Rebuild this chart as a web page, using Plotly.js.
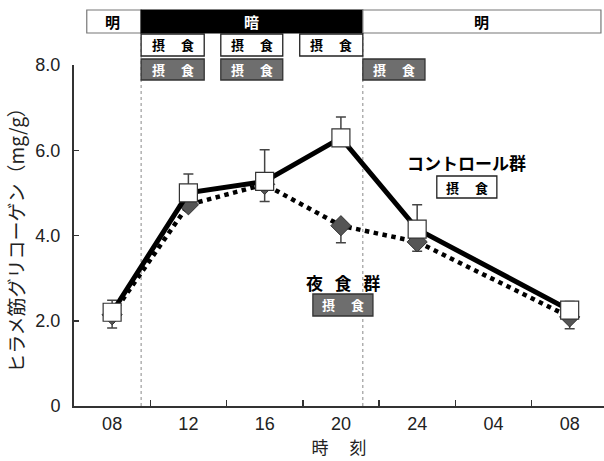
<!DOCTYPE html>
<html>
<head>
<meta charset="utf-8">
<script src="https://cdn.plot.ly/plotly-3.0.1.min.js"></script>
<style>html,body{margin:0;padding:0;background:#fff;}#chart{width:604px;height:461px;}</style>
</head>
<body>
<div id="chart"></div>
<script>
// ---- data (hours after 08:00) ----
const labelHours = [0, 4, 8, 12, 16, 20, 24];
const timeLabels = ['08', '12', '16', '20', '24', '04', '08'];
const boundaryHours = [2, 6, 10, 14, 18, 22];
const sampleHours = [0, 4, 8, 12, 16, 24];
const controlMean = [2.2, 5.0, 5.27, 6.29, 4.15, 2.25];
const controlSE   = [0.28, 0.44, 0.74, 0.49, 0.57, 0.2];
const nightMean   = [2.14, 4.72, 5.2, 4.23, 3.85, 2.09];
const nightSE     = [0.31, 0.1, 0.4, 0.4, 0.22, 0.28];
const noError     = [0, 0, 0, 0, 0, 0];
const yTickVals = [0, 2, 4, 6, 8];
const yTickText = ['0', '2.0', '4.0', '6.0', '8.0'];

const CJK = '"Noto Sans CJK JP", "Noto Sans", sans-serif';
const LAT = '"Liberation Sans", Arial, sans-serif';

const night = {
  x: sampleHours, y: nightMean, type: 'scatter', mode: 'lines+markers',
  line: {color: '#000', width: 4.5, dash: 'dot'},
  marker: {symbol: 'diamond', size: 15.5, color: '#555', line: {color: '#333', width: 1}},
  error_y: {type: 'data', symmetric: false, array: noError, arrayminus: nightSE,
            color: '#444', thickness: 1.5, width: 5},
  hoverinfo: 'none', showlegend: false
};
const control = {
  x: sampleHours, y: controlMean, type: 'scatter', mode: 'lines+markers',
  line: {color: '#000', width: 5},
  marker: {symbol: 'square', size: 18, color: '#fff', line: {color: '#333', width: 1.2}},
  error_y: {type: 'data', symmetric: false, array: controlSE, arrayminus: noError,
            color: '#444', thickness: 1.5, width: 5},
  hoverinfo: 'none', showlegend: false
};

// paper y helpers for decorations
const rows = {
  barY0: 1.0938, barY1: 1.1613, barT: 1.1276,
  wY0: 1.0264, wY1: 1.0909, wT: 1.0587,
  gY0: 0.9560, gY1: 1.0176, gT: 0.9868
};
const shapes = [];
const annotations = [];
function box(x0, x1, y0, y1, fill, lineColor, lw) {
  shapes.push({type: 'rect', xref: 'x', yref: 'paper', x0: x0, x1: x1, y0: y0, y1: y1,
    fillcolor: fill, line: {color: lineColor, width: lw}, layer: 'above'});
}
function txt(x, y, text, size, color) {
  annotations.push({xref: 'x', yref: 'paper', x: x, y: y, text: text, showarrow: false,
    font: {family: CJK, size: size, color: color, weight: 'bold'}, xanchor: 'center', yanchor: 'middle'});
}
// light/dark bar
box(-1.33, 1.52, rows.barY0, rows.barY1, '#fff', '#777', 1.2);
box(1.52, 13.15, rows.barY0, rows.barY1, '#000', '#000', 1.2);
box(13.15, 25.64, rows.barY0, rows.barY1, '#fff', '#777', 1.2);
txt(0, rows.barT, '明', 15, '#000');
txt(7.33, rows.barT, '暗', 15, '#fff');
txt(19.4, rows.barT, '明', 15, '#000');
// dotted lines
[1.52, 13.15].forEach(function (h) {
  shapes.push({type: 'line', xref: 'x', yref: 'paper', x0: h, x1: h, y0: 0, y1: rows.barY0,
    line: {color: '#888', width: 1, dash: 'dot'}, layer: 'below'});
});
const feed = '摂\u3000\u00a0食';
// control feeding (white)
[[1.52, 4.83], [5.70, 8.95], [9.84, 13.15]].forEach(function (p) {
  box(p[0], p[1], rows.wY0, rows.wY1, '#fff', '#222', 1.3);
  txt((p[0] + p[1]) / 2, rows.wT, feed, 13, '#000');
});
// night feeding (grey)
[[1.52, 4.83], [5.70, 8.95], [13.15, 16.41]].forEach(function (p) {
  box(p[0], p[1], rows.gY0, rows.gY1, '#6e6e6e', '#333', 1.3);
  txt((p[0] + p[1]) / 2, rows.gT, feed, 13, '#fff');
});
// legend-like labels
txt(18.6, 0.7155, 'コントロール群', 17, '#000');
box(17.03, 20.18, 0.6100, 0.6745, '#fff', '#222', 1.3);
txt(18.6, 0.6422, feed, 13, '#000');
txt(12.1, 0.3636, '夜\u00a0\u00a0\u00a0食\u00a0\u00a0\u00a0群', 17, '#000');
box(10.53, 13.68, 0.2639, 0.3284, '#6e6e6e', '#333', 1.3);
txt(12.1, 0.2962, feed, 13, '#fff');

const layout = {
  width: 604, height: 461,
  margin: {l: 74, r: 0, t: 65, b: 55},
  paper_bgcolor: '#fff', plot_bgcolor: '#fff',
  showlegend: false,
  xaxis: {
    range: [-2, 25.8], tickmode: 'array', tickvals: labelHours, ticktext: timeLabels,
    ticks: '', showgrid: false, zeroline: false,
    showline: true, linecolor: '#333', linewidth: 2,
    tickfont: {family: LAT, size: 18, color: '#222'}, ticklabelstandoff: 0,
    minor: {tickmode: 'array', tickvals: boundaryHours, ticks: 'inside', ticklen: 6,
            tickcolor: '#333', tickwidth: 1.5, showgrid: false},
    title: {text: '時\u3000 刻', font: {family: CJK, size: 17, color: '#222'}, standoff: 0}
  },
  yaxis: {
    range: [0, 8], tickmode: 'array', tickvals: yTickVals, ticktext: yTickText,
    ticks: 'inside', ticklen: 5, tickcolor: '#333', tickwidth: 1.5,
    showgrid: false, zeroline: false,
    showline: true, linecolor: '#333', linewidth: 2,
    tickfont: {family: LAT, size: 18, color: '#222'}, ticklabelstandoff: 8,
    title: {text: 'ヒラメ筋グリコーゲン（mg/g）', font: {family: CJK, size: 19, color: '#222'}, standoff: 6}
  },
  shapes: shapes,
  annotations: annotations
};

Plotly.newPlot('chart', [night, control], layout, {displayModeBar: false, staticPlot: true});
</script>
</body>
</html>
